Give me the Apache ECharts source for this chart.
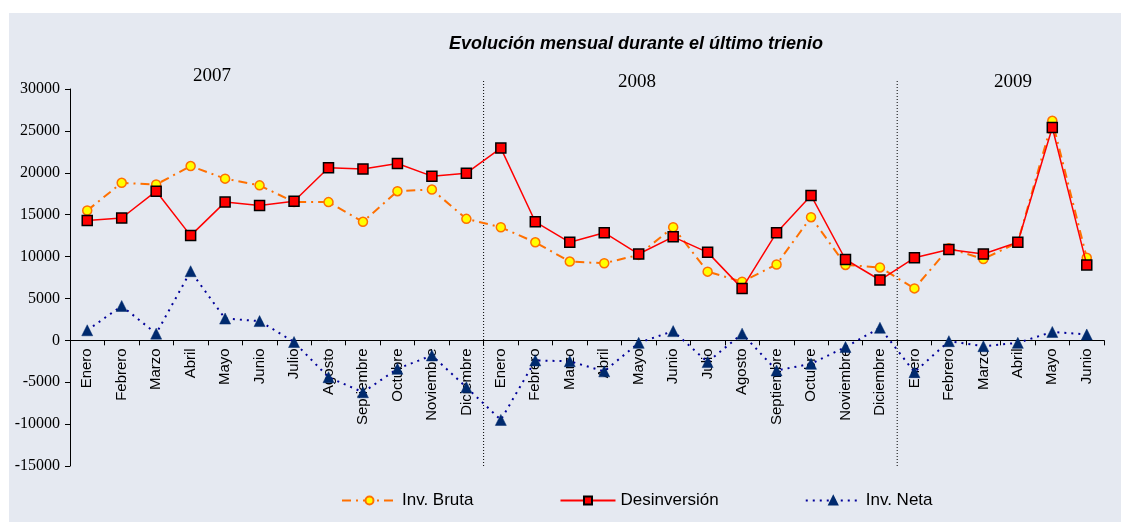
<!DOCTYPE html>
<html>
<head>
<meta charset="utf-8">
<script src="https://cdn.jsdelivr.net/npm/echarts@6/dist/echarts.min.js"></script>
<style>html,body{margin:0;padding:0;background:#fff}#c{width:1121px;height:522px}</style>
</head>
<body>
<div id="c"></div>
<script>
var months2007 = ['Enero','Febrero','Marzo','Abril','Mayo','Junio','Julio','Agosto','Septiembre','Octubre','Noviembre','Diciembre'];
var months2008 = ['Enero','Febrero','Marzo','Abril','Mayo','Junio','Julio','Agosto','Septiembre','Octubre','Noviembre','Diciembre'];
var months2009 = ['Enero','Febrero','Marzo','Abril','Mayo','Junio'];
var years = ['2007','2008','2009'];
var invBruta = [15500,18800,18600,20800,19300,18500,16500,16500,14150,17800,18000,14500,
                13500,11700,9400,9200,10200,13500,8200,7000,9050,14700,9000,8700,
                6200,11000,9700,11700,26200,9850];
var desinversion = [14300,14600,17800,12500,16500,16100,16600,20600,20450,21100,19600,19950,
                    22950,14150,11700,12850,10300,12350,10500,6200,12850,17300,9650,7200,
                    9850,10850,10300,11700,25400,9000];
var invNeta = [1200,4100,800,8250,2600,2300,-200,-4400,-6200,-3400,-1800,-5600,
               -9500,-2400,-2500,-3700,-300,1100,-2600,800,-3600,-2800,-800,1500,
               -3800,-100,-700,-300,1000,700];
var yTicks = [-15000,-10000,-5000,0,5000,10000,15000,20000,25000,30000];

var categories = months2007.concat(months2008, months2009);
var b1 = months2007.length, b2 = months2007.length + months2008.length;
var yMin = yTicks[0], yMax = yTicks[yTicks.length-1];
var divTop = yMax + 1000;

var GRID_TOP = 89, GRID_BOTTOM = 56, H = 522;
var gridH = H - GRID_TOP - GRID_BOTTOM;
var zeroOffset = -(0 - yMin) / (yMax - yMin) * gridH;

var chart = echarts.init(document.getElementById('c'));
var SERIF = 'Liberation Serif', SANS = 'Liberation Sans';
chart.setOption({
  backgroundColor: '#ffffff',
  animation: false,
  graphic: [
    {type:'rect', shape:{x:9,y:13,width:1112,height:509}, style:{fill:'#e5e9f1'}, z:-10},
    {type:'text', x:636, y:44, style:{text:'Evolución mensual durante el último trienio', font:'italic bold 18px '+SANS, fill:'#000', textAlign:'center', textVerticalAlign:'middle'}},
    {type:'text', x:212, y:76, style:{text:years[0], font:'19px '+SERIF, fill:'#000', textAlign:'center', textVerticalAlign:'middle'}},
    {type:'text', x:637, y:82, style:{text:years[1], font:'19px '+SERIF, fill:'#000', textAlign:'center', textVerticalAlign:'middle'}},
    {type:'text', x:1013, y:82, style:{text:years[2], font:'19px '+SERIF, fill:'#000', textAlign:'center', textVerticalAlign:'middle'}}
  ],
  grid: {left:70, right:17, top:GRID_TOP, bottom:GRID_BOTTOM, containLabel:false, outerBoundsMode:'none'},
  legend: {
    data: ['Inv. Bruta','Desinversión','Inv. Neta'],
    left: 336, top: 487,
    itemWidth: 55, itemHeight: 10, itemGap: 86,
    textStyle: {fontFamily: SANS, fontSize: 17, color:'#000'}
  },
  xAxis: [{
    type: 'category', data: categories, boundaryGap: true,
    position: 'bottom', offset: zeroOffset,
    axisLine: {onZero: false, lineStyle:{color:'#000', width:1}},
    axisTick: {show:true, length:5, lineStyle:{color:'#000'}},
    axisLabel: {interval:0, rotate:90, margin:8, fontFamily:SANS, fontSize:15, color:'#000'},
    splitLine: {show:false}
  },{
    type: 'value', min: 0, max: categories.length, show: false
  }],
  yAxis: {
    type: 'value', min: yMin, max: yMax, interval: 5000,
    axisLine: {show:true, lineStyle:{color:'#000', width:1}},
    axisTick: {show:true, length:5, lineStyle:{color:'#000'}},
    axisLabel: {margin:10, fontFamily:SERIF, fontSize:16, color:'#000', formatter: function(v){ return String(v); }},
    splitLine: {show:false}
  },
  series: [
    {
      name:'divider', type:'line', xAxisIndex:1, silent:true, clip:false, symbol:'none',
      data: [[b1, yMin],[b1, divTop]],
      lineStyle:{color:'#000', width:1, type:[1,2]}, z:1
    },
    {
      name:'divider2', type:'line', xAxisIndex:1, silent:true, clip:false, symbol:'none',
      data: [[b2, yMin],[b2, divTop]],
      lineStyle:{color:'#000', width:1, type:[1,2]}, z:1
    },
    {
      name:'Inv. Bruta', type:'line', data: invBruta,
      symbol:'circle', symbolSize:9,
      lineStyle:{color:'#ff7000', width:2, type:[9,5,2,5]},
      itemStyle:{color:'#ffff00', borderColor:'#ff7000', borderWidth:1.5},
      z:3
    },
    {
      name:'Desinversión', type:'line', data: desinversion,
      symbol:'rect', symbolSize:10,
      lineStyle:{color:'#ff0000', width:1.5},
      itemStyle:{color:'#ff0000', borderColor:'#000', borderWidth:1.5},
      z:4
    },
    {
      name:'Inv. Neta', type:'line', data: invNeta,
      symbol:'triangle', symbolSize:11,
      lineStyle:{color:'#000099', width:2, type:[2,5]},
      itemStyle:{color:'#002a6e', borderColor:'#002a6e', borderWidth:0.5},
      z:5
    }
  ]
});
</script>
</body>
</html>
